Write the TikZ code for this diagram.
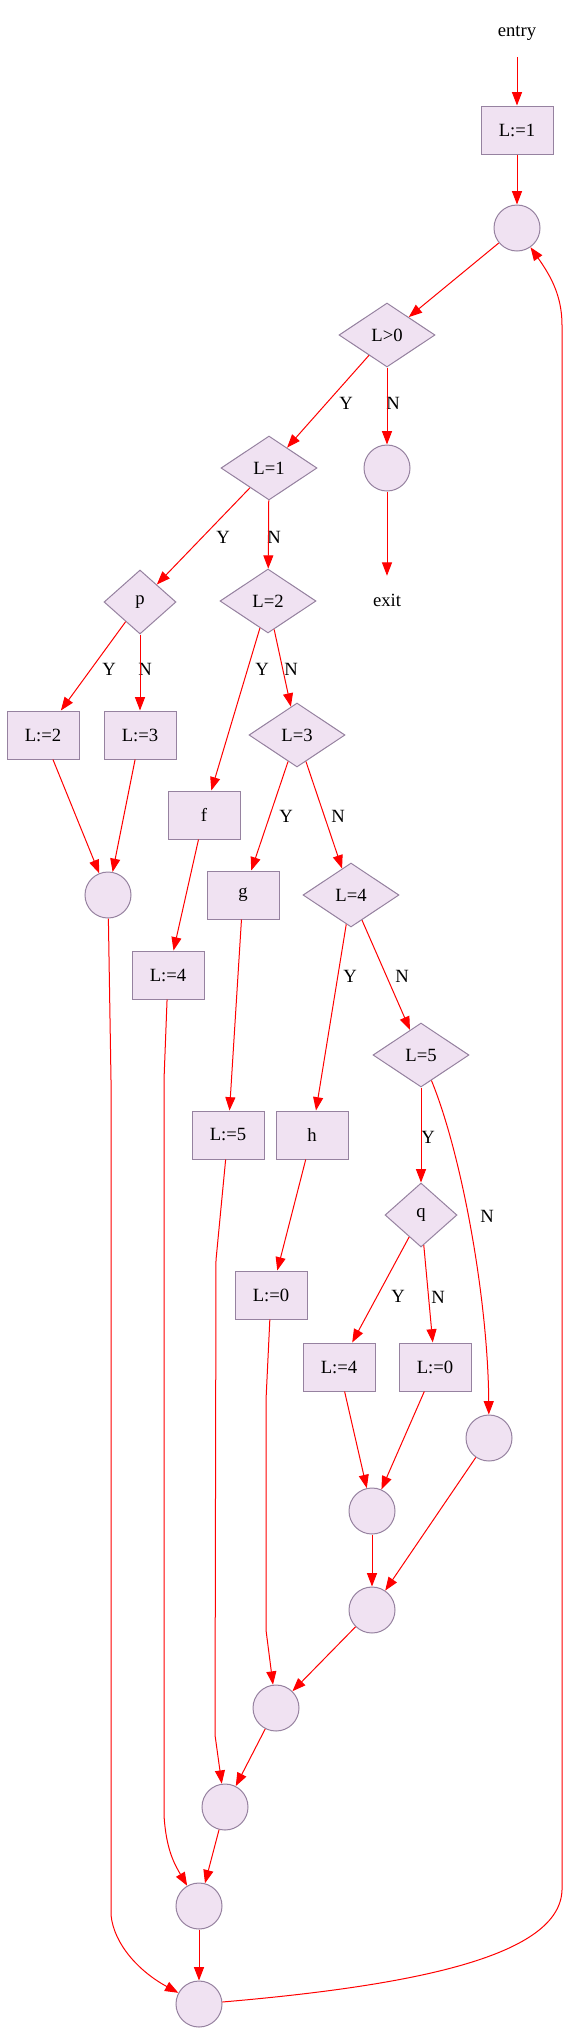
\documentclass[tikz,border=0pt]{standalone}
\usepackage{fontspec}
\setmainfont{Liberation Serif}
\usepackage{tikz}
\usetikzlibrary{shapes.geometric, arrows.meta}
\definecolor{nodefill}{RGB}{240,226,242}
\definecolor{nodeline}{RGB}{150,130,160}
\tikzset{
	stmtbox/.style={draw=nodeline, fill=nodefill, line width=0.75pt, rectangle, minimum width=54pt, minimum height=36pt, inner sep=0pt, font=\fontsize{14}{16}\selectfont}
}
\tikzset{
	testdiamond/.style={draw=nodeline, fill=nodefill, line width=0.75pt, diamond, aspect=1.5, minimum width=72pt, minimum height=48pt, inner sep=0pt, font=\fontsize{14}{16}\selectfont},
	smalltest/.style={testdiamond, aspect=1.1, minimum width=54pt}
}
\tikzset{
	joincircle/.style={draw=nodeline, fill=nodefill, line width=0.75pt, circle, minimum size=34.5pt, inner sep=0pt},
	plaintext/.style={minimum width=54pt, minimum height=36pt, inner sep=0pt, font=\fontsize{14}{16}\selectfont},
	edgelabel/.style={inner sep=0pt, font=\fontsize{14}{16}\selectfont},
	flowline/.style={draw, color=red, line width=0.75pt, -{Triangle[length=10pt, width=7.5pt]}}
}
\begin{document}
\begin{tikzpicture}[x=0.75pt, y=-0.75pt]
      \useasboundingbox (0,0) rectangle (581,2035);
      % nodes
      \node[plaintext] (entry) at (517,33) {entry};
      \node[stmtbox] (set1) at (517,130) {L:=1};
      \node[joincircle] (loop) at (517,228) {};
      \node[testdiamond] (gt0) at (387,335) {L>0};
      \node[testdiamond] (eq1) at (269,468) {L=1};
      \node[joincircle] (pre) at (387,468) {};
      \node[plaintext] (exit) at (387,600) {exit};
      \node[smalltest] (p) at (140,602) {p};
      \node[testdiamond] (eq2) at (268,601) {L=2};
      \node[stmtbox] (set2) at (43,735) {L:=2};
      \node[stmtbox] (set3) at (140,735) {L:=3};
      \node[testdiamond] (eq3) at (297,735) {L=3};
      \node[stmtbox] (f) at (204,815) {f};
      \node[joincircle] (joinp) at (108,895) {};
      \node[stmtbox] (g) at (243,895) {g};
      \node[testdiamond] (eq4) at (351,895) {L=4};
      \node[stmtbox] (setf4) at (168,975) {L:=4};
      \node[testdiamond] (eq5) at (421,1055) {L=5};
      \node[stmtbox] (set5) at (228,1135) {L:=5};
      \node[stmtbox] (h) at (312,1135) {h};
      \node[smalltest] (q) at (421,1215) {q};
      \node[stmtbox] (seth0) at (271,1295) {L:=0};
      \node[stmtbox] (setq4) at (339,1367) {L:=4};
      \node[stmtbox] (setq0) at (435,1367) {L:=0};
      \node[joincircle] (join5) at (489,1438) {};
      \node[joincircle] (joinq) at (372,1511) {};
      \node[joincircle] (joina) at (372,1610) {};
      \node[joincircle] (joinb) at (276,1708) {};
      \node[joincircle] (joinc) at (225,1807) {};
      \node[joincircle] (joind) at (199,1906) {};
      \node[joincircle] (joine) at (199,2004) {};
      % labels
      \node[edgelabel] (y0) at (346,403) {Y};
      \node[edgelabel] (n0) at (393,403) {N};
      \node[edgelabel] (y1) at (223,537) {Y};
      \node[edgelabel] (n1) at (274,537) {N};
      \node[edgelabel] (yp) at (109,669) {Y};
      \node[edgelabel] (np) at (145,669) {N};
      \node[edgelabel] (y2) at (262,669) {Y};
      \node[edgelabel] (n2) at (291,669) {N};
      \node[edgelabel] (y3) at (286,816) {Y};
      \node[edgelabel] (n3) at (338,816) {N};
      \node[edgelabel] (y4) at (350,976) {Y};
      \node[edgelabel] (n4) at (402,976) {N};
      \node[edgelabel] (y5) at (428,1137) {Y};
      \node[edgelabel] (n5) at (487,1216) {N};
      \node[edgelabel] (yq) at (398,1296) {Y};
      \node[edgelabel] (nq) at (438,1297) {N};
      % straight edges
      \path[flowline] (entry) edge (set1);
      \path[flowline] (set1) edge (loop);
      \path[flowline] (loop) edge (gt0);
      \path[flowline] (gt0) edge (eq1);
      \path[flowline] (gt0) edge (pre);
      \path[flowline] (pre) edge (exit);
      \path[flowline] (eq1) edge (p);
      \path[flowline] (eq1) edge (eq2);
      \path[flowline] (p) edge (set2);
      \path[flowline] (p) edge (set3);
      \path[flowline] (eq2) edge (f);
      \path[flowline] (eq2) edge (eq3);
      \path[flowline] (set2) edge (joinp);
      \path[flowline] (set3) edge (joinp);
      \path[flowline] (f) edge (setf4);
      \path[flowline] (eq3) edge (g);
      \path[flowline] (eq3) edge (eq4);
      \path[flowline] (g) edge (set5);
      \path[flowline] (eq4) edge (h);
      \path[flowline] (eq4) edge (eq5);
      \path[flowline] (h) edge (seth0);
      \path[flowline] (eq5) edge (q);
      \path[flowline] (q) edge (setq4);
      \path[flowline] (q) edge (setq0);
      \path[flowline] (setq4) edge (joinq);
      \path[flowline] (setq0) edge (joinq);
      \path[flowline] (join5) edge (joina);
      \path[flowline] (joinq) edge (joina);
      \path[flowline] (joina) edge (joinb);
      \path[flowline] (joinb) edge (joinc);
      \path[flowline] (joinc) edge (joind);
      \path[flowline] (joind) edge (joine);
      % long and bent edges
      \draw[flowline] (eq5) .. controls (462,1155) and (488,1300) .. (join5);
      \draw[flowline] (joinp) -- (111,1080) -- (111,1915) .. controls (114,1945) and (140,1972) .. (joine);
      \draw[flowline] (setf4) -- (164,1080) -- (164,1815) .. controls (166,1850) and (175,1865) .. (joind);
      \draw[flowline] (set5) -- (216,1260) -- (215,1735) -- (joinc);
      \draw[flowline] (seth0) -- (266,1400) -- (266,1630) -- (joinb);
      \draw[flowline] (joine) .. controls (420,1985) and (560,1955) .. (562,1890)
        -- (562,325) .. controls (562,295) and (550,275) .. (loop);
    \end{tikzpicture}
\end{document}
